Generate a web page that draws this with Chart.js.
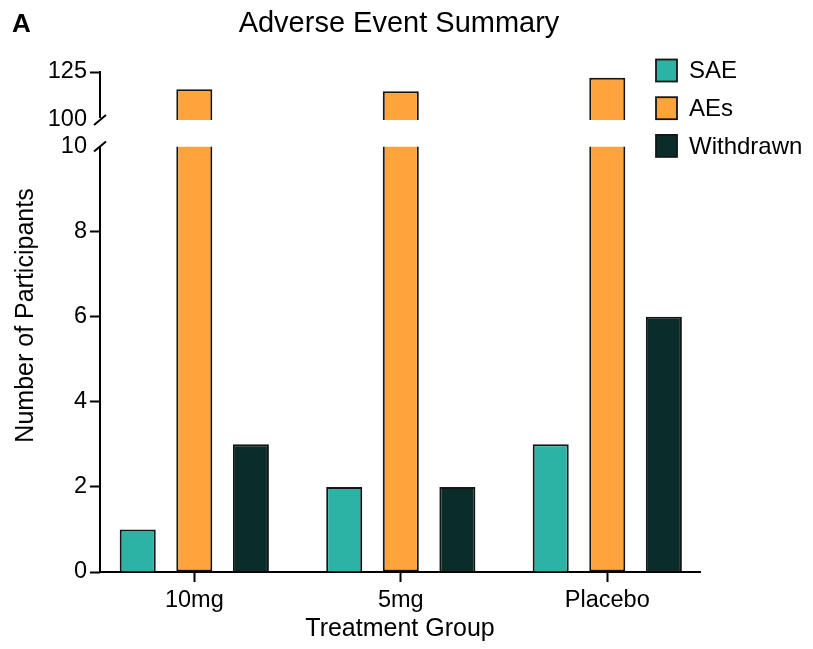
<!DOCTYPE html>
<html>
<head>
<meta charset="utf-8">
<script src="https://cdn.jsdelivr.net/npm/chart.js@4/dist/chart.umd.min.js"></script>
<style>
  html, body { margin: 0; padding: 0; background: #fff; }
  #wrap { width: 813px; height: 649px; }
</style>
</head>
<body>
<div id="wrap"><canvas id="c" width="813" height="649"></canvas></div>
<script>
// ---- data ----
const categories = ['10mg', '5mg', 'Placebo'];
const saeValues = [1, 2, 3];
const aeValues = [116, 115, 122];
const withdrawnValues = [3, 2, 6];
const lowerTicks = [0, 2, 4, 6, 8, 10];
const upperTicks = [100, 125];
const seriesNames = ['SAE', 'AEs', 'Withdrawn'];

// ---- style ----
const FONT = "'Liberation Sans', Arial, Helvetica, sans-serif";
const colors = { sae: '#2CB3A5', ae: '#FFA43C', wd: '#0A2D2A' };
const edge = '#151515';
const lowerTop = lowerTicks[lowerTicks.length - 1];
const upperBase = upperTicks[0];

const pts = (vals) => vals.map((v, i) => ({ x: i, y: v }));

const datasets = [
  { label: seriesNames[0], data: pts(saeValues), backgroundColor: colors.sae, borderColor: edge,
    borderWidth: 2, yAxisID: 'y', stack: 's1' },
  { label: seriesNames[1], data: aeValues.map((v, i) => ({ x: i, y: [0, Math.min(v, lowerTop)] })),
    backgroundColor: colors.ae, borderColor: edge, borderWidth: 2, borderSkipped: 'top', yAxisID: 'y', stack: 's2' },
  { label: seriesNames[1], data: aeValues.map((v, i) => ({ x: i, y: [upperBase, v] })),
    backgroundColor: colors.ae, borderColor: edge, borderWidth: 2, borderSkipped: 'bottom', yAxisID: 'yTop', stack: 's2',
    hideInLegend: true },
  { label: seriesNames[2], data: pts(withdrawnValues), backgroundColor: colors.wd, borderColor: edge,
    borderWidth: 2, yAxisID: 'y', stack: 's3' }
];

const decorPlugin = {
  id: 'decor',
  afterDraw(chart) {
    const ctx = chart.ctx;
    const ca = chart.chartArea;
    const yL = chart.scales.y, yU = chart.scales.yTop;
    ctx.save();
    // broken y axis
    ctx.strokeStyle = '#000';
    ctx.lineWidth = 2;
    const x0 = ca.left;
    const pLowTop = yL.getPixelForValue(lowerTop);
    const pUpTop = yU.getPixelForValue(upperTicks[upperTicks.length - 1]);
    const pUpBase = yU.getPixelForValue(upperBase);
    ctx.beginPath();
    ctx.moveTo(x0, ca.bottom + 1); ctx.lineTo(x0, pLowTop);
    ctx.moveTo(x0, pUpTop - 1); ctx.lineTo(x0, pUpBase - 2);
    ctx.stroke();
    ctx.beginPath();
    ctx.moveTo(x0 - 6, pLowTop + 5); ctx.lineTo(x0 + 6, pLowTop - 5);
    ctx.moveTo(x0 - 6, pUpBase + 5); ctx.lineTo(x0 + 6, pUpBase - 5);
    ctx.stroke();

    // panel letter and title
    ctx.fillStyle = '#000';
    ctx.textBaseline = 'alphabetic';
    ctx.textAlign = 'left';
    ctx.font = 'bold 26px ' + FONT;
    ctx.fillText('A', 12, 32);
    ctx.textAlign = 'center';
    ctx.font = '29px ' + FONT;
    ctx.fillText('Adverse Event Summary', 399, 32);

    // y axis title
    ctx.save();
    ctx.translate(33, 315.5);
    ctx.rotate(-Math.PI / 2);
    ctx.font = '25px ' + FONT;
    ctx.textAlign = 'center';
    ctx.fillText('Number of Participants', 0, 0);
    ctx.restore();

    // legend
    const items = chart.data.datasets.filter(d => !d.hideInLegend);
    ctx.font = '24px ' + FONT;
    ctx.textAlign = 'left';
    ctx.textBaseline = 'middle';
    items.forEach((d, i) => {
      const cy = 70.5 + i * 37.7;
      ctx.fillStyle = d.backgroundColor;
      ctx.fillRect(656, cy - 11, 21, 22);
      ctx.lineWidth = 1.8;
      ctx.strokeStyle = edge;
      ctx.strokeRect(656, cy - 11, 21, 22);
      ctx.fillStyle = '#000';
      ctx.fillText(d.label, 689, cy + 1);
    });
    ctx.restore();
  }
};

const tickFont = { family: FONT, size: 23.5 };
const hideTick = (hidden) => (c) => (c.tick && c.tick.value === hidden) ? 'rgba(0,0,0,0)' : '#000';

new Chart(document.getElementById('c'), {
  type: 'bar',
  data: { datasets },
  plugins: [decorPlugin],
  options: {
    responsive: false,
    animation: false,
    layout: { padding: { left: 40, right: 113, top: 72, bottom: 0 } },
    categoryPercentage: 0.822,
    barPercentage: 0.637,
    plugins: { legend: { display: false }, title: { display: false }, tooltip: { enabled: false } },
    scales: {
      x: {
        type: 'linear', position: 'bottom', offset: false,
        min: -0.4567, max: 2.449,
        afterBuildTicks: (s) => { s.ticks = categories.map((c, i) => ({ value: i })); },
        afterFit: (s) => { s.height = 77; },
        ticks: { autoSkip: false, maxRotation: 0, padding: 4, color: '#000', font: tickFont,
          callback: (v) => categories[Math.round(v)] },
        grid: { drawOnChartArea: false, drawTicks: true, tickLength: 10, tickWidth: 2, tickColor: '#000', offset: false },
        border: { display: true, width: 2, color: '#000' },
        title: { display: true, text: 'Treatment Group', color: '#000', font: { family: FONT, size: 25 }, padding: { top: 0, bottom: 5 } }
      },
      y: {
        type: 'linear', position: 'left', stack: 'ystack', stackWeight: 439, weight: 0, stacked: false,
        min: 0, max: 10.317,
        afterBuildTicks: (s) => { s.ticks = lowerTicks.map(v => ({ value: v })); },
        afterFit: (s) => { s.width = 60; },
        ticks: { padding: 3, color: '#000', font: tickFont },
        grid: { drawOnChartArea: false, drawTicks: true, tickLength: 10, tickWidth: 2, tickColor: hideTick(lowerTop) },
        border: { display: false }
      },
      yTop: {
        type: 'linear', position: 'left', stack: 'ystack', stackWeight: 61, weight: 1, stacked: false,
        min: 93.23, max: 125,
        afterBuildTicks: (s) => { s.ticks = upperTicks.map(v => ({ value: v })); },
        afterFit: (s) => { s.width = 60; },
        ticks: { padding: 3, color: '#000', font: tickFont },
        grid: { drawOnChartArea: false, drawTicks: true, tickLength: 10, tickWidth: 2, tickColor: hideTick(upperBase) },
        border: { display: false }
      }
    }
  }
});
</script>
</body>
</html>
